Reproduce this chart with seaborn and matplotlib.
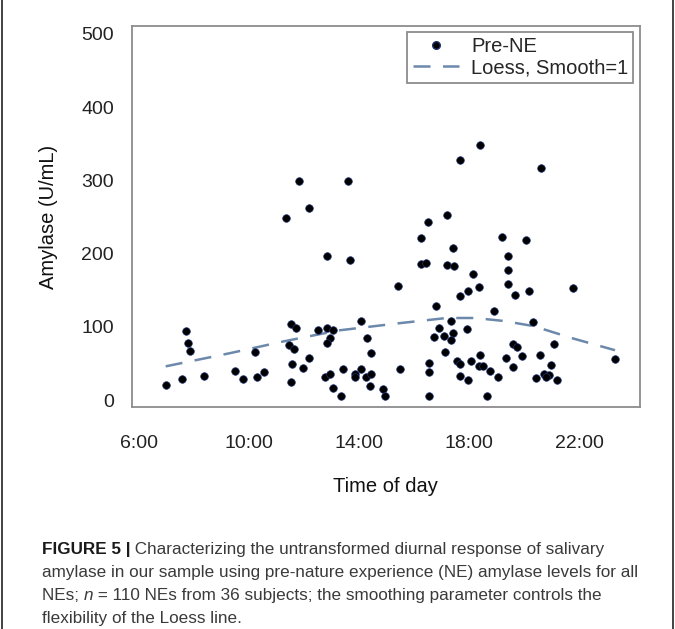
import numpy as np
import pandas as pd
import matplotlib
matplotlib.use("Agg")
import matplotlib.pyplot as plt
import seaborn as sns
from matplotlib.lines import Line2D

# ---- data ----
hours = [6.97, 7.55, 7.72, 7.79, 7.84, 8.36, 9.50, 9.79, 10.21, 10.28,
         10.55, 11.36, 11.82, 12.19, 12.85, 13.67, 13.61, 11.53, 11.70, 11.46,
         11.64, 11.55, 11.53, 11.95, 12.19, 12.52, 12.85, 13.06, 12.95, 12.83,
         12.77, 12.95, 13.07, 13.35, 13.43, 14.08, 14.30, 14.44, 14.06, 13.85,
         13.85, 14.27, 14.44, 14.39, 14.89, 14.95, 15.42, 15.49, 16.51, 17.20,
         16.25, 17.42, 16.25, 16.44, 17.19, 17.47, 17.68, 18.41, 20.60, 19.20,
         20.09, 19.41, 18.13, 19.43, 19.41, 18.35, 17.95, 17.67, 19.69, 20.19,
         21.77, 16.80, 18.91, 17.35, 20.33, 16.92, 17.92, 16.74, 17.08, 17.43,
         17.36, 17.14, 19.60, 19.76, 21.08, 20.59, 19.91, 19.33, 19.60, 18.41,
         18.08, 17.55, 17.66, 18.36, 18.51, 18.75, 19.05, 17.96, 17.68, 16.53,
         16.55, 16.53, 18.67, 20.97, 20.73, 20.91, 20.80, 20.43, 21.21, 23.32]
amylase = [20, 29, 94, 78, 67, 33, 40, 29, 66, 31,
           38, 249, 299, 262, 196, 191, 299, 104, 98, 75,
           70, 49, 25, 44, 58, 95, 98, 95, 85, 78,
           32, 35, 16, 6, 42, 108, 85, 64, 42, 36,
           32, 32, 36, 19, 15, 5, 156, 42, 243, 253,
           221, 207, 186, 187, 185, 183, 328, 348, 317, 222,
           219, 196, 172, 177, 158, 154, 149, 142, 144, 149,
           153, 128, 122, 108, 106, 98, 97, 86, 87, 91,
           82, 66, 76, 72, 76, 61, 60, 58, 45, 62,
           53, 53, 49, 46, 47, 39, 31, 28, 33, 51,
           38, 6, 6, 48, 36, 34, 32, 30, 27, 56]
loess_hours = [6.97, 9.31, 11.25, 13.25, 15.49, 17.19, 18.22, 19.25, 20.34, 21.79, 23.31]
loess_values = [46, 64, 80, 95, 105, 112, 112, 108, 101, 84, 68]

x_ticks = [6, 10, 14, 18, 22]
x_tick_labels = ["6:00", "10:00", "14:00", "18:00", "22:00"]
y_ticks = [0, 100, 200, 300, 400, 500]
series_labels = ["Pre-NE", "Loess, Smooth=1"]
x_title = "Time of day"
y_title = "Amylase (U/mL)"

caption_lines = [
    [("FIGURE 5 |", "bold", "normal"), (" Characterizing the untransformed diurnal response of salivary", "normal", "normal")],
    [("amylase in our sample using pre-nature experience (NE) amylase levels for all", "normal", "normal")],
    [("NEs; ", "normal", "normal"), ("n", "normal", "italic"), (" = 110 NEs from 36 subjects; the smoothing parameter controls the", "normal", "normal")],
    [("flexibility of the Loess line.", "normal", "normal")],
]

# ---- style ----
sns.set_theme(style="white")
plt.rcParams['font.family'] = ['Liberation Sans', 'DejaVu Sans']

W, H = 675, 629
fig = plt.figure(figsize=(W / 100, H / 100), dpi=100)
ax = fig.add_axes([132 / W, 1 - 407 / H, (639.5 - 132) / W, (407 - 26) / H])

LINE_COLOR = "#6c88aa"
DASH = (0, (6.8, 5.0))

df = pd.DataFrame({"hour": hours, "amylase": amylase})
sns.scatterplot(data=df, x="hour", y="amylase", ax=ax, s=30, color="black",
                edgecolor="#1f3370", linewidth=0.5, zorder=3, legend=False)
ldf = pd.DataFrame({"hour": loess_hours, "amylase": loess_values})
sns.lineplot(data=ldf, x="hour", y="amylase", ax=ax, color=LINE_COLOR,
             linewidth=1.8, linestyle=DASH, zorder=2, legend=False)

ax.set_xlim(5.745, 24.2)
ax.set_ylim(-9.5, 510.6)
ax.set_xticks(x_ticks)
ax.set_xticklabels(x_tick_labels)
ax.set_yticks(y_ticks)
ax.tick_params(axis="both", which="major", direction="out", length=6,
               width=1.1, color="#8c8c8c", labelsize=14, labelcolor="#222222")
ax.tick_params(axis="x", pad=14)
ax.tick_params(axis="y", pad=7)
ax.set_xlabel(x_title, fontsize=14.5, labelpad=18, color="#111111")
ax.set_ylabel(y_title, fontsize=14.5, labelpad=17, color="#111111")
for sp in ax.spines.values():
    sp.set_color("#8c8c8c")
    sp.set_linewidth(1.3)

handles = [
    Line2D([], [], marker="o", color="black", markeredgecolor="#1f3370",
           markersize=5.5, linestyle="none"),
    Line2D([], [], color=LINE_COLOR, linewidth=1.8, linestyle=DASH),
]
leg = ax.legend(handles, series_labels, loc="upper right", fontsize=14.5,
                frameon=True, fancybox=False, framealpha=1,
                edgecolor="#8c8c8c", borderpad=0.26, labelspacing=0.1,
                handlelength=2.3, handletextpad=0.6, borderaxespad=0.3)
leg.get_frame().set_linewidth(1.3)

# ---- caption ----
renderer = fig.canvas.get_renderer()
cap_fs = 12.3
baselines = [554, 577, 600, 623]
for yb, pieces in zip(baselines, caption_lines):
    x = 42.0
    for txt, wt, st in pieces:
        color = "#1a1a1a" if wt == "bold" else "#3a3a3a"
        fig.text(x / W, 1 - yb / H, txt, fontsize=cap_fs, fontweight=wt,
                 fontstyle=st, va="baseline", ha="left", color=color)
        probe = fig.text(0, 0, "x" + txt + "x", fontsize=cap_fs, fontweight=wt, fontstyle=st)
        probe_x = fig.text(0, 0, "xx", fontsize=cap_fs, fontweight=wt, fontstyle=st)
        w = probe.get_window_extent(renderer).width - probe_x.get_window_extent(renderer).width
        probe.remove(); probe_x.remove()
        x += w

# outer border (left and right)
for xs in ([1.5, 1.5], [W - 2, W - 2]):
    fig.add_artist(Line2D([v / W for v in xs], [1, 0],
                          color="#222222", linewidth=1.2, transform=fig.transFigure))

fig.savefig("out.png", dpi=100)
